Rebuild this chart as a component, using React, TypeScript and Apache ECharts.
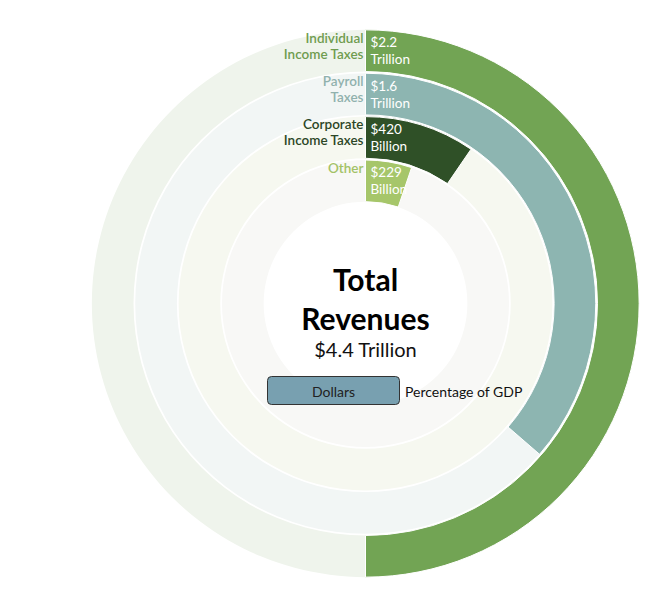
import { useEffect, useRef } from 'react';
import * as echarts from 'echarts';

// rings, from the inside out
const categories = ['Other', 'Corporate Income Taxes', 'Payroll Taxes', 'Individual Income Taxes'];
const nameLabels = ['Other', 'Corporate\nIncome Taxes', 'Payroll\nTaxes', 'Individual\nIncome Taxes'];
// billions of dollars
const revenues = [229, 420, 1600, 2200];
const valueLabels = ['$229\nBillion', '$420\nBillion', '$1.6\nTrillion', '$2.2\nTrillion'];
const totalRevenue = 4400;
const totalLabel = '$4.4 Trillion';
const toggleLabels = ['Dollars', 'Percentage of GDP'];

const barColors = ['#a6c66a', '#2f5027', '#8db5b1', '#72a454'];
const trackColors = ['#f8f8f6', '#f6f8f0', '#f2f6f5', '#eff4ec'];
const nameColors = ['#a3c267', '#2c4626', '#90b1ad', '#6f9c50'];

const FONT = 'Lato, "Noto Sans", sans-serif';

export default function App() {
  const chartRef = useRef<HTMLDivElement>(null);

  useEffect(() => {
    if (!chartRef.current) return;

    const chart = echarts.init(chartRef.current, null, { renderer: 'svg' });

    const option = {
      animation: false,
      textStyle: { fontFamily: FONT },
      polar: {
        center: [365.5, 303.5],
        radius: [101, 274.5],
      },
      angleAxis: {
        type: 'value',
        min: 0,
        max: totalRevenue,
        startAngle: 90,
        clockwise: true,
        show: false,
      },
      radiusAxis: {
        type: 'category',
        data: categories,
        show: false,
      },
      series: [
        {
          name: 'track',
          type: 'bar',
          coordinateSystem: 'polar',
          barCategoryGap: '4%',
          silent: true,
          data: categories.map((_, i) => ({
            value: totalRevenue,
            itemStyle: { color: trackColors[i] },
            label: { color: nameColors[i] },
          })),
          label: {
            show: true,
            position: 'start',
            distance: 2,
            align: 'right',
            verticalAlign: 'top',
            offset: [0, -21],
            formatter: (p: any) => nameLabels[p.dataIndex],
            fontFamily: FONT,
            fontSize: 13.5,
            fontWeight: 600,
            lineHeight: 16,
          },
        },
        {
          name: 'revenue',
          type: 'bar',
          coordinateSystem: 'polar',
          barGap: '-100%',
          barCategoryGap: '4%',
          data: revenues.map((v, i) => ({
            value: v,
            itemStyle: { color: barColors[i] },
          })),
          itemStyle: { borderColor: '#ffffff', borderWidth: 1 },
          label: {
            show: true,
            position: 'insideStart',
            distance: 5,
            formatter: (p: any) => valueLabels[p.dataIndex],
            color: '#ffffff',
            fontFamily: FONT,
            fontSize: 13.5,
            lineHeight: 17,
          },
        },
      ],
      graphic: [
        {
          type: 'text',
          z: 100,
          x: 365.5,
          y: 278.5,
          style: {
            text: 'Total',
            fill: '#000',
            font: `bold 30px ${FONT}`,
            align: 'center',
            verticalAlign: 'middle',
          },
        },
        {
          type: 'text',
          z: 100,
          x: 365.5,
          y: 317.5,
          style: {
            text: 'Revenues',
            fill: '#000',
            font: `bold 30px ${FONT}`,
            align: 'center',
            verticalAlign: 'middle',
          },
        },
        {
          type: 'text',
          z: 100,
          x: 365.5,
          y: 348.5,
          style: {
            text: totalLabel,
            fill: '#111',
            font: `20px ${FONT}`,
            align: 'center',
            verticalAlign: 'middle',
          },
        },
        {
          type: 'rect',
          z: 100,
          shape: { x: 267.5, y: 376.5, width: 132, height: 28, r: 4 },
          style: { fill: '#78a0b0', stroke: '#333', lineWidth: 1 },
        },
        {
          type: 'text',
          z: 101,
          x: 333.5,
          y: 391.5,
          style: {
            text: toggleLabels[0],
            fill: '#222',
            font: `14px ${FONT}`,
            align: 'center',
            verticalAlign: 'middle',
          },
        },
        {
          type: 'text',
          z: 101,
          x: 405,
          y: 391.5,
          style: {
            text: toggleLabels[1],
            fill: '#111',
            font: `14px ${FONT}`,
            align: 'left',
            verticalAlign: 'middle',
          },
        },
      ],
    };

    chart.setOption(option);

    const handleResize = () => chart.resize();
    window.addEventListener('resize', handleResize);

    return () => {
      window.removeEventListener('resize', handleResize);
      chart.dispose();
    };
  }, []);

  return (
    <div
      ref={chartRef}
      style={{ position: 'fixed', left: 0, top: 0, width: 667, height: 595, background: '#fff' }}
    />
  );
}
